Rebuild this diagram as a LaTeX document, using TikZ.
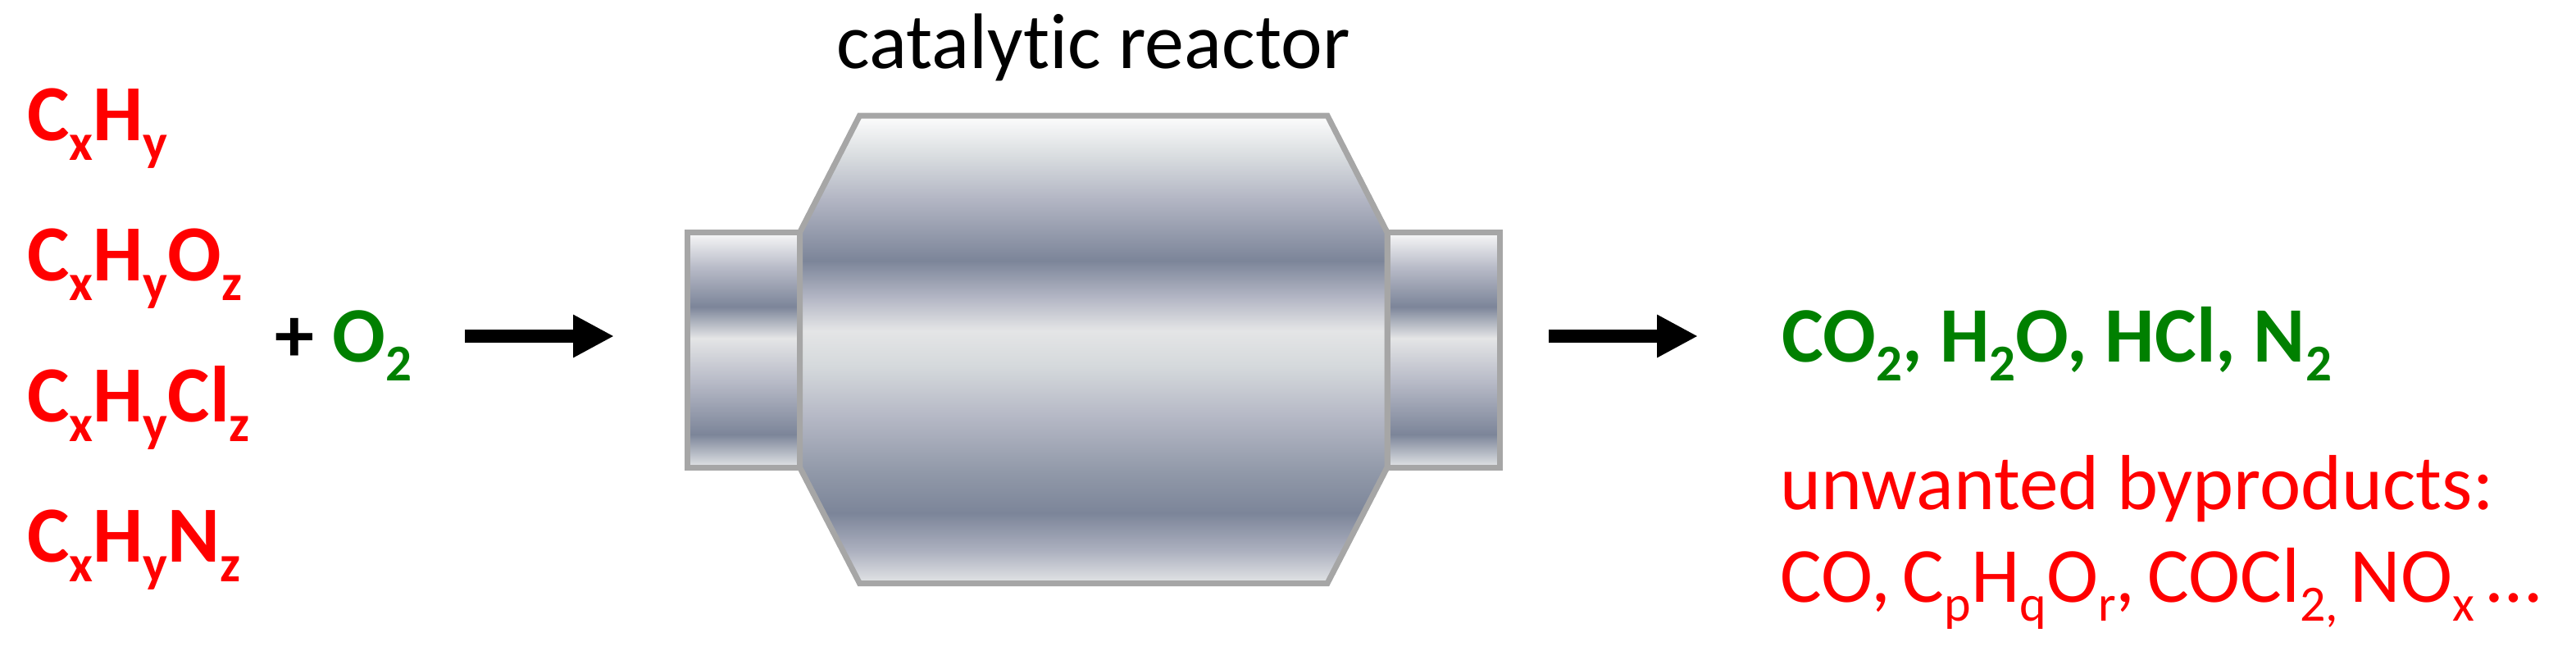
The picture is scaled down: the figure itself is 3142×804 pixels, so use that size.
\documentclass[tikz,border=0pt]{standalone}
\usepackage{fontspec}
\setmainfont[Ligatures=NoCommon]{Carlito}
\usetikzlibrary{arrows.meta}
\definecolor{wall}{HTML}{A6A6A6}
\definecolor{okgreen}{HTML}{008000}
\definecolor{stA}{HTML}{FDFDFD}
\definecolor{stB}{HTML}{D8DCDF}
\definecolor{stC}{HTML}{B2B5C3}
\definecolor{stD}{HTML}{7C8599}
\definecolor{stE}{HTML}{B4B7C5}
\definecolor{stF}{HTML}{E4E5E6}
\definecolor{stG}{HTML}{D5D9DC}
\definecolor{stH}{HTML}{B6B9C6}
\definecolor{stI}{HTML}{9098A8}
\definecolor{stJ}{HTML}{ACB0BF}
\definecolor{stK}{HTML}{E3E5E7}
\definecolor{stL}{HTML}{F8F8F8}
\pgfdeclareverticalshading{bodysteel}{100bp}{color(0bp)=(stK); color(25bp)=(stK); color(28.5bp)=(stJ);
  color(32.5bp)=(stD); color(36.75bp)=(stI); color(43bp)=(stH); color(48.25bp)=(stG); color(52bp)=(stF);
  color(55.5bp)=(stE); color(59.5bp)=(stD); color(66bp)=(stC); color(70.6bp)=(stB); color(75bp)=(stA); color(100bp)=(stA)}
\pgfdeclareverticalshading{tubesteel}{100bp}{color(0bp)=(stK); color(25bp)=(stK); color(32bp)=(stD);
  color(43bp)=(stH); color(52.5bp)=(stF); color(59.2bp)=(stD); color(67.3bp)=(stH); color(75bp)=(stL); color(100bp)=(stL)}
\newcommand{\subsz}{31}
\newcommand{\chemsub}[1]{\raisebox{-0.25em}{\fontsize{\subsz}{32}\selectfont #1}}
\begin{document}
\begin{tikzpicture}[x=0.5pt,y=-0.5pt,
  txt/.style={anchor=base west,inner sep=0pt,font=\fontsize{48}{50}\selectfont},
  reac/.style={txt,text=red,font=\renewcommand{\subsz}{31.5}\fontsize{48.5}{50}\selectfont\bfseries},
  prod/.style={txt,text=okgreen,font=\renewcommand{\subsz}{31.5}\fontsize{47.9}{50}\selectfont\bfseries},
  waste/.style={txt,text=red,font=\fontsize{47.6}{50}\selectfont},
  steel/.style={draw=wall,line width=3.5pt,shade,shading=#1},
  flow/.style={-{Triangle[length=25pt,width=24.5pt]},line width=8pt}]
   \useasboundingbox (0,0) rectangle (3142,804);
   % feeds
   \node[reac] (r_1) at (33,171) {C\chemsub{x}H\chemsub{y}};
   \node[reac] (r_2) at (33,342) {C\chemsub{x}H\chemsub{y}O\chemsub{z}};
   \node[reac] (r_3) at (33,514) {C\chemsub{x}H\chemsub{y}Cl\chemsub{z}};
   \node[reac] (r_4) at (33,685) {C\chemsub{x}H\chemsub{y}N\chemsub{z}};
   \node[txt,font=\fontsize{48}{50}\selectfont\bfseries] (plus) at (335,441) {+};
   \node[prod] (o_2) at (405,441) {O\chemsub{2}};
   % reactor
   \draw[steel=tubesteel] (838,283.5) rectangle (975.5,570);
   \draw[steel=tubesteel] (1692,283.5) rectangle (1829,570);
   \draw[steel=bodysteel] (1048.5,141) -- (1619,141) -- (1692,283.5) -- (1692,570)
     -- (1619,711.5) -- (1048.5,711.5) -- (975.5,570) -- (975.5,283.5) -- cycle;
   \node[txt] (title) at (1020,83) {catalytic reactor};
   % arrows
   \coordinate (in_a) at (567,410);
   \coordinate (in_b) at (749,410);
   \coordinate (out_a) at (1889,410);
   \coordinate (out_b) at (2071,410);
   \draw[flow] (in_a) -- (in_b);
   \draw[flow] (out_a) -- (out_b);
   % products
   \node[prod] (p_1) at (2173,441) {CO\chemsub{2}, H\chemsub{2}O, HCl, N\chemsub{2}};
   \node[waste] (p_2) at (2171,621) {unwanted byproducts:};
   \node[waste] (p_3) at (2171,734) {\spaceskip=7.5pt\relax CO, C\chemsub{p}H\chemsub{q}O\chemsub{r}, COCl\chemsub{2,} NO\chemsub{x} …};
\end{tikzpicture}
\end{document}
